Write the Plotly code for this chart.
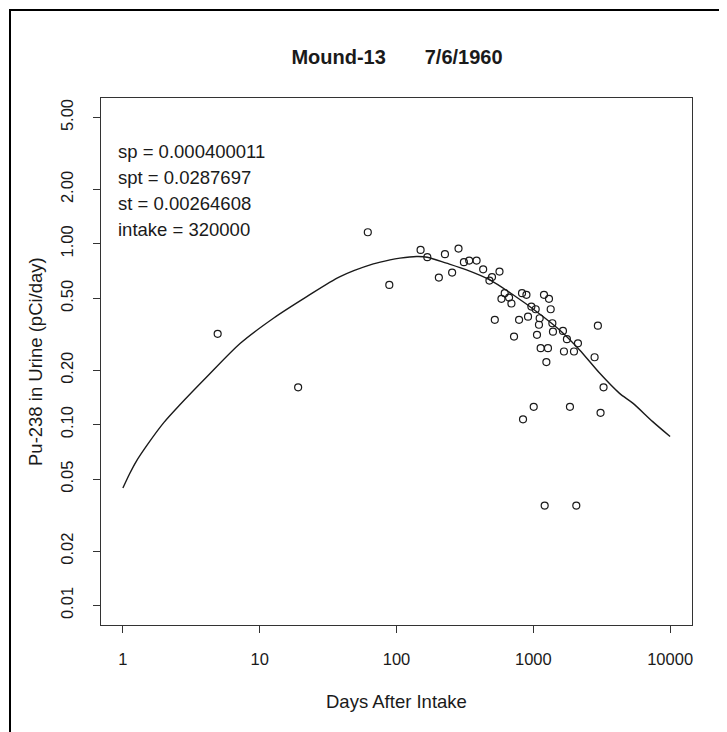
import plotly.graph_objects as go

# Observed urine data (days after intake, pCi/day)
days = [4.93, 19.1, 61.7, 88.6, 150, 168, 226, 284, 204, 255, 311, 340, 385, 430,
        478, 499, 566, 618, 585, 665, 692, 827, 891, 1197, 1302, 968, 1041, 1340,
        523, 787, 915, 1113, 1100, 1378, 1392, 1647, 1761, 723, 1064, 1132, 1280,
        1246, 1675, 1983, 2120, 2805, 2965, 3262, 1007, 841, 1853, 3102, 1211, 2062]
urine = [0.318, 0.161, 1.16, 0.593, 0.926, 0.844, 0.877, 0.942, 0.651, 0.694, 0.792,
         0.809, 0.809, 0.723, 0.627, 0.655, 0.703, 0.534, 0.497, 0.505, 0.468, 0.534,
         0.523, 0.523, 0.497, 0.450, 0.435, 0.435, 0.380, 0.380, 0.396, 0.388, 0.357,
         0.364, 0.327, 0.330, 0.297, 0.307, 0.314, 0.265, 0.265, 0.222, 0.254, 0.254,
         0.282, 0.236, 0.353, 0.161, 0.1256, 0.107, 0.1256, 0.1163, 0.0357, 0.0357]

# Fitted model curve
curve_days = [1, 1.12, 1.25, 1.52, 1.99, 2.59, 4.13, 7.22, 12.6, 22.1, 38.7, 67.7, 89.7,
              106, 140, 168, 232, 325, 481, 711, 1053, 1557, 2180, 3050, 4270, 5335,
              7460, 10000]
curve_vals = [0.0446, 0.0535, 0.0625, 0.078, 0.1026, 0.128, 0.1846, 0.282, 0.388, 0.511,
              0.659, 0.775, 0.816, 0.834, 0.851, 0.844, 0.782, 0.718, 0.632, 0.523,
              0.423, 0.334, 0.259, 0.193, 0.149, 0.1316, 0.104, 0.086]

x_ticks = [1, 10, 100, 1000, 10000]
x_ticktext = ["1", "10", "100", "1000", "10000"]
y_ticks = [0.01, 0.02, 0.05, 0.1, 0.2, 0.5, 1, 2, 5]
y_ticktext = ["0.01", "0.02", "0.05", "0.10", "0.20", "0.50", "1.00", "2.00", "5.00"]

params = ["sp = 0.000400011", "spt = 0.0287697", "st = 0.00264608", "intake = 320000"]
title_text = "Mound-13\u00a0\u00a0\u00a0\u00a0\u00a0\u00a0\u00a07/6/1960"

FONT = "Liberation Sans, Arial, sans-serif"
INK = "#1a1a1a"

OFF = 8  # page body margin
W, H = 727 - OFF, 732 - OFF
L, T = 101 - OFF, 98 - OFF
R = W - (692 - OFF)
B = H - (625 - OFF)
PW, PH = W - L - R, H - T - B


def px_x(p):
    return (p - OFF - L) / PW


def px_y(p):
    return (H - B - (p - OFF)) / PH


fig = go.Figure()
fig.add_trace(go.Scatter(x=curve_days, y=curve_vals, mode="lines",
                         line=dict(color=INK, width=1.4, shape="spline", smoothing=0.8),
                         showlegend=False))
fig.add_trace(go.Scatter(x=days, y=urine, mode="markers",
                         marker=dict(symbol="circle-open", size=7, color=INK,
                                     line=dict(width=1.2, color=INK)),
                         showlegend=False))

axis_common = dict(showgrid=False, zeroline=False, showline=True, mirror=True,
                   linecolor="#333", linewidth=1.2, ticks="outside", ticklen=7,
                   tickcolor="#333", tickwidth=1.2,
                   tickfont=dict(family=FONT, size=16.5, color=INK))

fig.update_xaxes(type="log", range=[-0.16, 4.16], tickmode="array",
                 tickvals=x_ticks, ticktext=x_ticktext, ticklabelstandoff=12,
                 **axis_common)
fig.update_yaxes(type="log", range=[-2.108, 0.807], tickmode="array",
                 tickvals=y_ticks, ticktext=y_ticktext, tickangle=-90,
                 ticklabelstandoff=13, **axis_common)

annotations = []
for i, t in enumerate(params):
    annotations.append(dict(text=t, xref="paper", yref="paper", x=px_x(116),
                            y=px_y(151.7 + 26 * i), xanchor="left", yanchor="middle",
                            showarrow=False,
                            font=dict(family=FONT, size=18.5, color=INK)))
annotations.append(dict(text="Days After Intake", xref="paper", yref="paper",
                        x=px_x(396.5), y=px_y(701), xanchor="center", yanchor="middle",
                        showarrow=False, font=dict(family=FONT, size=18.5, color=INK)))
annotations.append(dict(text="Pu-238 in Urine (pCi/day)", xref="paper", yref="paper",
                        x=px_x(35), y=px_y(362), xanchor="center", yanchor="middle",
                        textangle=-90, showarrow=False,
                        font=dict(family=FONT, size=18.5, color=INK)))

fig.update_layout(
    width=W, height=H,
    margin=dict(l=L, r=R, t=T, b=B),
    paper_bgcolor="white", plot_bgcolor="white",
    title=dict(text="<b>" + title_text + "</b>", x=px_x(397), xref="paper",
               xanchor="center", y=1 - (57 - OFF) / H, yref="container",
               yanchor="middle",
               font=dict(family=FONT, size=20, color=INK)),
    annotations=annotations,
    shapes=[dict(type="rect", xref="paper", yref="paper",
                 x0=px_x(10), x1=px_x(760), y0=px_y(770), y1=px_y(10),
                 line=dict(color="black", width=2), layer="below")],
)

fig.write_html("out.html")
